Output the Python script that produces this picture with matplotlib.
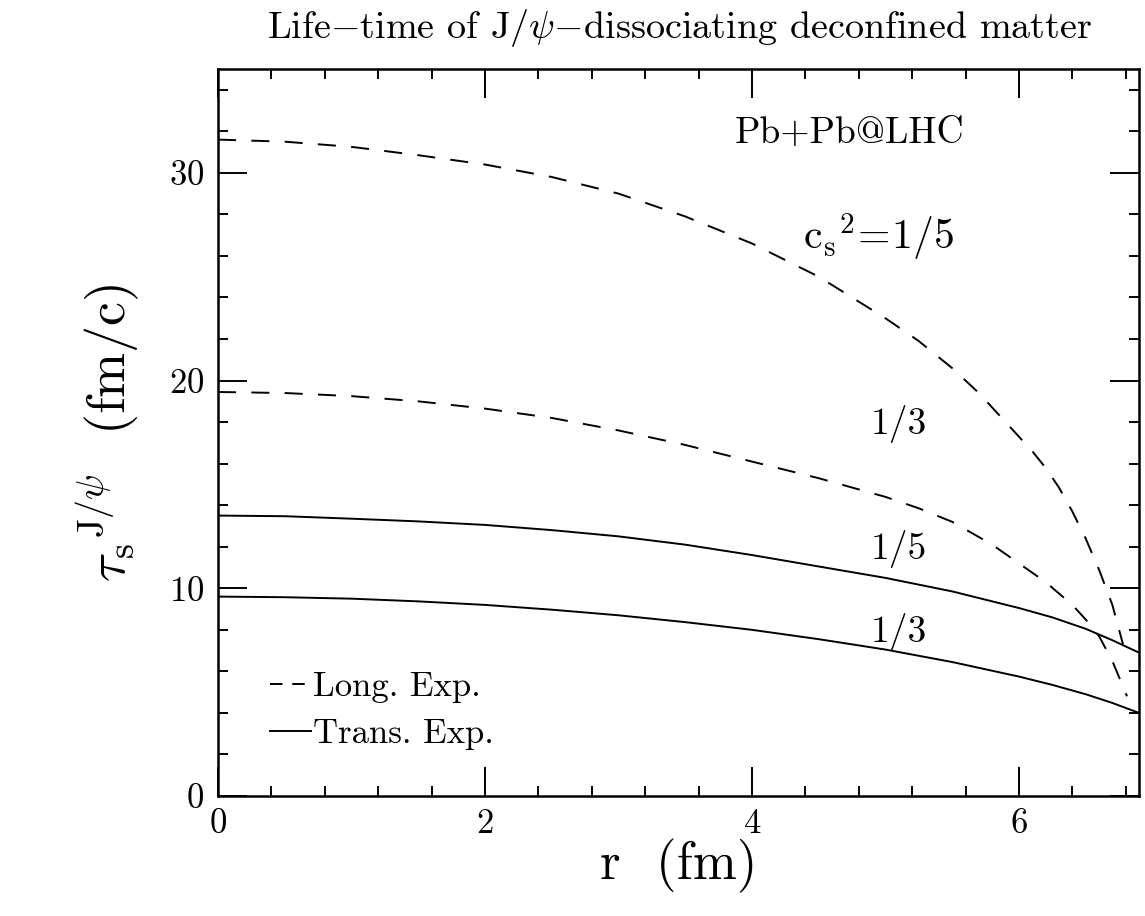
import matplotlib
matplotlib.use("Agg")
import matplotlib.pyplot as plt
from matplotlib.lines import Line2D

plt.rcParams['font.family'] = ['cmr10', 'DejaVu Serif']
plt.rcParams['mathtext.fontset'] = 'cm'
plt.rcParams['axes.formatter.use_mathtext'] = True
plt.rcParams['lines.scale_dashes'] = False

# longitudinal expansion (dashed)
r_long_15 = [0, 0.5, 1.0, 1.5, 2.0, 2.5, 3.0, 3.5, 4.0, 4.5, 5.0, 5.25, 5.5, 5.7, 5.9, 6.0, 6.1, 6.2,
             6.3, 6.4, 6.5, 6.6, 6.7, 6.78]
tau_long_15 = [31.6, 31.5, 31.25, 30.85, 30.4, 29.8, 29.0, 27.9, 26.6, 25.0, 23.0, 21.9, 20.6, 19.4, 18.0,
               17.3, 16.6, 15.8, 14.85, 13.7, 12.4, 10.9, 9.2, 7.3]

r_long_13 = [0, 0.5, 1.0, 1.5, 2.0, 2.5, 3.0, 3.5, 4.0, 4.5, 5.0, 5.25, 5.5, 5.8, 6.0, 6.2, 6.4, 6.5,
             6.6, 6.7, 6.81]
tau_long_13 = [19.45, 19.4, 19.25, 19.0, 18.65, 18.2, 17.6, 16.9, 16.1, 15.3, 14.4, 13.85, 13.2, 12.1,
               11.2, 10.3, 9.2, 8.5, 7.7, 6.5, 4.8]

# transverse expansion (solid)
r_trans = [0, 0.5, 1.0, 1.5, 2.0, 2.5, 3.0, 3.5, 4.0, 4.5, 5.0, 5.5, 6.0, 6.25, 6.5, 6.7, 6.9]
tau_trans_15 = [13.5, 13.47, 13.35, 13.22, 13.05, 12.8, 12.5, 12.1, 11.6, 11.05, 10.5, 9.85, 9.05,
                8.6, 8.05, 7.5, 6.9]
tau_trans_13 = [9.6, 9.57, 9.5, 9.37, 9.2, 8.97, 8.7, 8.37, 8.0, 7.55, 7.05, 6.45, 5.75, 5.35,
                4.9, 4.48, 4.0]

fig = plt.figure(figsize=(11.45, 9.16), dpi=100)
ax = fig.add_axes([0.1904, 0.131, 0.8044, 0.7937])

dash = (13, 11)
ax.plot(r_long_15, tau_long_15, color='black', lw=1.4, dashes=dash)
ax.plot(r_long_13, tau_long_13, color='black', lw=1.4, dashes=dash)
ax.plot(r_trans, tau_trans_15, color='black', lw=1.4)
ax.plot(r_trans, tau_trans_13, color='black', lw=1.4)

ax.set_xlim(0, 6.9)
ax.set_ylim(0, 35)
ax.set_xticks([0, 2, 4, 6])
ax.set_xticks([x * 0.4 for x in range(18)], minor=True)
ax.set_yticks([0, 10, 20, 30])
ax.set_yticks(list(range(0, 35, 2)), minor=True)
ax.tick_params(which='both', direction='in', top=True, right=True, width=1.4)
ax.tick_params(which='major', length=21, labelsize=25)
ax.tick_params(axis='x', which='major', pad=9)
ax.tick_params(axis='y', which='major', pad=10)
ax.tick_params(which='minor', length=7.2)
for s in ax.spines.values():
    s.set_linewidth(1.8)

ax.set_xlabel('r  (fm)', fontsize=38, labelpad=-1)
ax.set_ylabel(r'${\tau_{\rm s}}^{\rm J/\psi}$  (fm/c)', fontsize=39, labelpad=20)
fig.text(0.594, 0.969, r'Life$-$time of J/$\psi$$-$dissociating deconfined matter',
         ha='center', va='center', fontsize=27.5)

ax.text(4.73, 31.9, 'Pb+Pb@LHC', ha='center', va='center', fontsize=27)
ax.text(4.95, 26.9, r'$\mathrm{c_s}^{2}\!=\!1/5$', ha='center', va='center', fontsize=30)
ax.text(5.1, 17.9, '1/3', ha='center', va='center', fontsize=27)
ax.text(5.1, 11.9, '1/5', ha='center', va='center', fontsize=27)
ax.text(5.1, 7.9, '1/3', ha='center', va='center', fontsize=27)

handles = [Line2D([], [], color='black', lw=1.4, dashes=(9, 7)),
           Line2D([], [], color='black', lw=1.4)]
ax.legend(handles, ['Long. Exp.', 'Trans. Exp.'], loc='lower left',
          bbox_to_anchor=(0.022, 0.02), frameon=False, fontsize=25,
          handlelength=1.2, handletextpad=0.05, labelspacing=0.45)

fig.savefig('out.png', dpi=100)
